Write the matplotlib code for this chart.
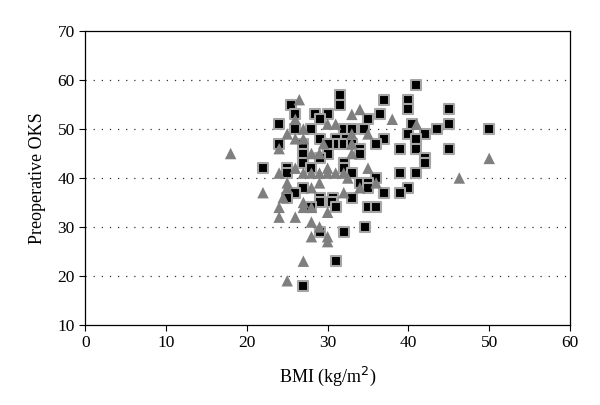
import matplotlib
matplotlib.use("Agg")
import matplotlib.pyplot as plt

# Squares series (BMI, OKS)
sq_bmi = [41, 31.5, 31.5, 25.5, 37, 40, 40, 45, 26, 28.5, 30, 36.5, 29, 35, 24, 45, 40.5,
          26, 28, 32, 33, 34.5, 43.5, 50, 40, 42, 29, 32, 31, 37, 41, 24, 27, 31, 30, 32,
          33, 36, 39, 41, 45, 34, 27, 30, 34, 29, 42, 32, 42, 27, 25, 22, 28, 32, 25, 33,
          39, 41, 36, 34, 35, 40, 27, 35, 26, 37, 39, 25, 29, 30.7, 33, 29, 30.5, 31, 35,
          36, 28, 29, 32, 34.6, 31, 27]
sq_oks = [59, 57, 55, 55, 56, 56, 54, 54, 53, 53, 53, 53, 52, 52, 51, 51, 51,
          50, 50, 50, 50, 50, 50, 50, 49, 49, 48, 48, 48, 48, 48, 47, 47, 47, 47, 47,
          47, 47, 46, 46, 46, 46, 45, 45, 45, 44, 44, 43, 43, 43, 42, 42, 42, 42, 41, 41,
          41, 41, 40, 39, 39, 38, 38, 38, 37, 37, 37, 36, 36, 36, 36, 35, 35, 34, 34,
          34, 34, 29, 29, 30, 23, 18]

# Triangles series (BMI, OKS)
tr_bmi = [18, 22, 24, 24, 24, 24, 25, 25, 25, 24.5, 25, 26.5, 26, 26, 26, 26, 27, 27, 27,
          27, 27, 27, 28, 28, 28, 28, 28, 28, 29, 29, 29, 29, 29.5, 30, 30, 30, 30, 30, 30,
          31, 31, 32, 32, 32.5, 33, 33, 33, 33, 34, 34, 35, 35, 36, 38, 41, 46.3, 50]
tr_oks = [45, 37, 46, 41, 34, 32, 49, 39, 38, 36, 19, 56, 52, 48, 42, 32, 50, 48, 41,
          35, 34, 23, 45, 41, 38, 34, 31, 28, 45, 39, 41, 30, 47, 42, 41, 33, 28, 27, 51,
          51, 41, 41, 37, 40, 53, 49, 47, 45, 54, 38, 49, 42, 39, 52, 51, 40, 44]

x_ticks = [0, 10, 20, 30, 40, 50, 60]
y_ticks = [10, 20, 30, 40, 50, 60, 70]

plt.rcParams['font.family'] = ['Liberation Serif', 'DejaVu Serif']

fig = plt.figure(figsize=(6, 4.05), dpi=100)
ax = fig.add_axes([0.142, 0.198, 0.808, 0.725])

for y in [20, 30, 40, 50, 60]:
    ax.axhline(y, color='#333333', linestyle=(0, (1, 5.5)), linewidth=0.9, zorder=1)

ax.scatter(sq_bmi, sq_oks, marker='s', s=50, facecolor='black', edgecolor='#a5a5a5',
           linewidth=1.5, zorder=3)
ax.scatter(tr_bmi, tr_oks, marker='^', s=68, facecolor='#7f7f7f', edgecolor='none',
           zorder=4)

ax.set_xlim(0, 60)
ax.set_ylim(10, 70)
ax.set_xticks(x_ticks)
ax.set_yticks(y_ticks)
ax.tick_params(direction='out', length=4, width=0.8, labelsize=12.5, colors='black')
for sp in ax.spines.values():
    sp.set_linewidth(0.9)
ax.set_xlabel('BMI (kg/m$^2$)', fontsize=13, labelpad=10)
ax.set_ylabel('Preoperative OKS', fontsize=13, labelpad=8)

fig.savefig('out.png', dpi=100)
